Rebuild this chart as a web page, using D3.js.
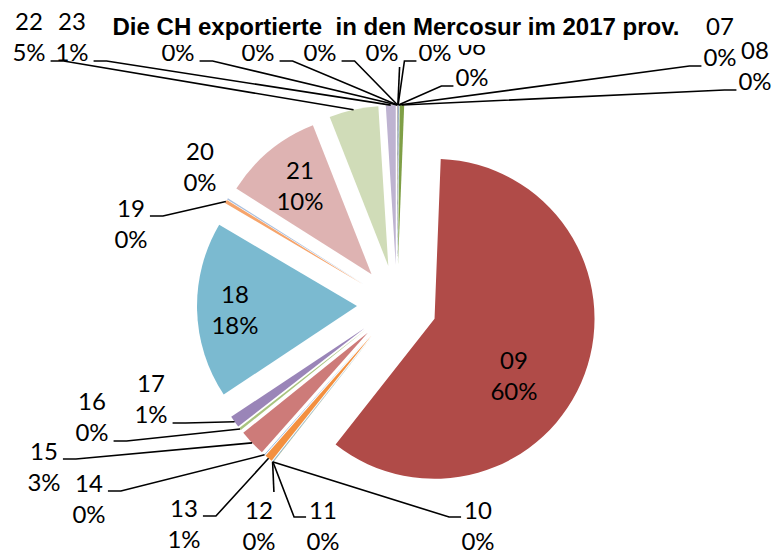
<!DOCTYPE html>
<html>
<head>
<meta charset="utf-8">
<script src="https://cdn.jsdelivr.net/npm/d3@7"></script>
<style>
  body { margin: 0; background: #fff; }
  svg text { font-family: Lato, "Open Sans", sans-serif; fill: #000; }
</style>
</head>
<body>
<div id="pieChart"></div>
<script>
const chartTitle = "Die CH exportierte  in den Mercosur im 2017 prov.";
const codes = ["01", "02", "03", "04", "05", "06", "07", "08", "09", "10", "11", "12",
  "13", "14", "15", "16", "17", "18", "19", "20", "21", "22", "23"];
// share of exports in %
const shares = [0.02, 0.02, 0.02, 0.02, 0.02, 0.02, 0.05, 0.45, 60.3, 0.03, 0.03, 0.03,
  0.8, 0.05, 2.7, 0.25, 1.2, 17.9, 0.35, 0.15, 10.1, 5.0, 1.0];
const sliceColors = ["#4f81bd", "#c0504d", "#9bbb59", "#8064a2", "#4bacc6", "#f79646",
  "#4f81bd", "#7f9f46", "#b04b48", "#9bbb59", "#8064a2", "#4bacc6",
  "#f3903f", "#4f81bd", "#cd7b79", "#a9c47f", "#9a85b8", "#7bbad0",
  "#f6a46b", "#a9bedc", "#deb3b2", "#d0dcb8", "#beb3d1"];
// label placement: centre x, first baseline, leader style
const labelX = [178, 258, 320, 382, 435, 472, 720, 755, 514, 478, 323, 259,
  184, 89, 44, 92, 151, 235, 131, 200, 300, 29, 72];
const labelY = [30, 30, 30, 30, 30, 55, 35, 59, 369, 519, 519, 519,
  517, 492, 460, 410, 392, 303, 217, 160, 179, 30, 30];
const leaderStyle = ["r2", "r2", "r2", "b", "l2", "l2", "l2", "l2", null, "l1", "l1", "t",
  "r1", "r1", "r1", "r2", "r2", null, "r1", null, null, "r2", "r2"];

const width = 774, height = 555;
const cx = 397, cy = 305, radius = 160, explode = 40, lineGap = 31;
// white box behind the title; it hides the category names 01-05
const titleBox = { x: 100, y: 0, w: 595, h: 45 };
const underTitle = (i) =>
  labelY[i] < titleBox.h && labelX[i] > titleBox.x && labelX[i] < titleBox.x + titleBox.w;

const svg = d3.select("#pieChart")
  .append("svg")
  .attr("width", width)
  .attr("height", height);

const total = d3.sum(shares);
const pct = d3.format(".0%");
const slices = d3.pie().sort(null).value((d) => d)(shares);
const arc = d3.arc().innerRadius(0).outerRadius(radius);
const mid = (d) => (d.startAngle + d.endAngle) / 2;

//draw exploded slices
svg.append("g")
  .selectAll("path")
  .data(slices)
  .enter()
  .append("path")
  .attr("transform", (d) => {
    const a = mid(d);
    return `translate(${cx + explode * Math.sin(a)}, ${cy - explode * Math.cos(a)})`;
  })
  .attr("d", arc)
  .style("fill", (d, i) => sliceColors[i]);

//labels
const labels = svg.append("g")
  .selectAll("g")
  .data(slices)
  .enter()
  .append("g");
labels.append("text")
  .attr("class", "l1")
  .attr("x", (d, i) => labelX[i])
  .attr("y", (d, i) => labelY[i])
  .attr("text-anchor", "middle")
  .style("font-size", "24px")
  .text((d, i) => (underTitle(i) ? "" : codes[i]));
labels.append("text")
  .attr("class", "l2")
  .attr("x", (d, i) => labelX[i])
  .attr("y", (d, i) => labelY[i] + lineGap)
  .attr("text-anchor", "middle")
  .style("font-size", "24px")
  .text((d) => pct(d.value / total));

//leader lines
const line = d3.line();
const leaders = svg.append("g");
labels.each(function (d, i) {
  const style = leaderStyle[i];
  if (!style) return;
  const g = d3.select(this);
  const w1 = g.select(".l1").node().getComputedTextLength();
  const w2 = g.select(".l2").node().getComputedTextLength();
  const a = mid(d);
  const tip = [cx + (explode + radius) * Math.sin(a), cy - (explode + radius) * Math.cos(a)];
  const x = labelX[i], b1 = labelY[i], b2 = b1 + lineGap;
  let pts;
  if (style === "r1") pts = [[x + w1 / 2 + 5, b1 - 1], [x + w1 / 2 + 18, b1 - 1], tip];
  else if (style === "r2") pts = [[x + w2 / 2 + 5, b2], [x + w2 / 2 + 18, b2], tip];
  else if (style === "l1") pts = [[x - w1 / 2 - 3, b1 - 2], [x - w1 / 2 - 15, b1 - 2], tip];
  else if (style === "l2") pts = [[x - w2 / 2 - 2, b2], [x - w2 / 2 - 14, b2], tip];
  else if (style === "b") pts = [[x + w2 / 2 + 1, b2 + 6], tip];
  else pts = [[x + w1 / 2 + 1, b1 - 27], tip];
  leaders.append("path")
    .attr("d", line(pts))
    .style("fill", "none")
    .style("stroke", "#000")
    .style("stroke-width", 1.6);
});

//title sits on its own white box
svg.append("rect")
  .attr("x", titleBox.x)
  .attr("y", titleBox.y)
  .attr("width", titleBox.w)
  .attr("height", titleBox.h)
  .style("fill", "#fff");
svg.append("text")
  .attr("x", 396)
  .attr("y", 35)
  .attr("text-anchor", "middle")
  .attr("textLength", 567)
  .attr("lengthAdjust", "spacingAndGlyphs")
  .style("font-family", "'Liberation Sans', Arial, sans-serif")
  .style("font-weight", "bold")
  .style("font-size", "23px")
  .style("white-space", "pre")
  .text(chartTitle);
</script>
</body>
</html>
